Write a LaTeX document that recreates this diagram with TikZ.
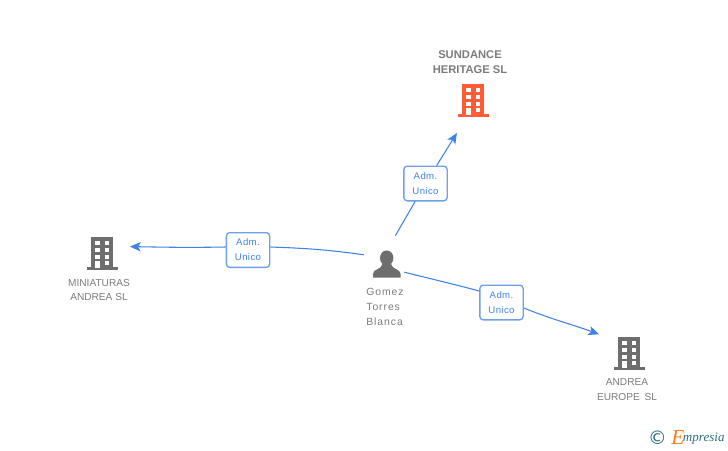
\documentclass[tikz,border=0pt]{standalone}
\usepackage{fontspec}
\setmainfont{Liberation Sans}
\newfontfamily\logofont{Liberation Serif}
\newfontfamily\copyfont{DejaVu Sans}
\newfontfamily\widefont[LetterSpace=9]{Liberation Sans}
\newfontfamily\admfont[LetterSpace=4]{Liberation Sans}
\usepackage{tikz}
\usetikzlibrary{arrows.meta,positioning}
\definecolor{bldgrey}{HTML}{6E6E6E}
\definecolor{bldorange}{HTML}{FF5C35}
\definecolor{txtgrey}{HTML}{7C7C7C}
\definecolor{linkblue}{HTML}{3F84E5}
\definecolor{boxblue}{HTML}{6FA1EA}
\definecolor{logoteal}{HTML}{2F6F80}
\definecolor{logoorange}{HTML}{F5801F}
\tikzstyle{link}    =[draw=linkblue, line width=0.8pt,
                      >={Stealth[length=8pt,width=7pt,inset=2pt]}]
\tikzstyle{admbox}  =[draw=boxblue, fill=white, rounded corners=2.5pt,
                      line width=1pt, minimum width=32.5pt, minimum height=26pt,
                      inner sep=0pt, align=center, text=linkblue,
                      font=\fontsize{7.2}{11.2}\admfont]
\tikzstyle{iconspot}=[minimum width=45pt, minimum height=49.5pt,
                      inner sep=0pt, outer sep=0pt]
\tikzstyle{caption} =[align=center, text=txtgrey, inner sep=0pt,
                      font=\fontsize{7.6}{11.2}\selectfont]
\tikzset{pics/buildingicon/.style={code={
    \fill[#1] (-11,-16.5) rectangle (11,14);
    \fill[#1] (-15.5,14) rectangle (15.5,17);
    \foreach \r in {-12.5,-5.5,1.5}{
        \fill[white] (-7,\r) rectangle (-2.4,\r+4);
        \fill[white] (2.6,\r) rectangle (7.3,\r+4);
    }
    \fill[white] (2.6,8) rectangle (7.3,12.3);
    \fill[white] (-7,8) rectangle (-2.4,15);
}}}
\begin{document}
\begin{tikzpicture}[x=0.75pt, y=-0.75pt]
    \useasboundingbox (0,0) rectangle (728,450);
    \fill[white] (0,0) rectangle (728,450);

    % icons
    \node[iconspot] (sundance) at (473,100) {};
    \pic at (sundance) {buildingicon=bldorange};
    \node[iconspot] (miniaturas) at (102,253) {};
    \pic at (miniaturas) {buildingicon=bldgrey};
    \node[iconspot] (andrea) at (629,353) {};
    \pic at (andrea) {buildingicon=bldgrey};

    \node[minimum width=30pt, minimum height=33pt, inner sep=0pt] (gomez) at (384,258) {};
    \fill[bldgrey] (386.7,258) ellipse (6.7 and 7.6);
    \fill[bldgrey] (373,277.5) -- (373,274) .. controls (373.5,268.5) and (381,270) .. (382.5,264)
        -- (391,264) .. controls (392.5,270) and (400,268.5) .. (400.7,274) -- (400.7,277.5) -- cycle;

    % captions
    \node[caption, font=\fontsize{8.4}{11.2}\selectfont\bfseries] (sundancetxt) at (470,62.5) {SUNDANCE\\HERITAGE SL};
    \node[caption] (miniaturastxt) at (99,290) {MINIATURAS\\ANDREA SL};
    \node[caption] (andreatxt) at (627,390) {ANDREA\\EUROPE\hspace{3.6pt}SL};
    \node[caption, align=left, font=\fontsize{7.8}{11.2}\widefont] (gomeztxt) at (385,306.5) {Gomez\\Torres\\Blanca};

    % labels on the links
    \node[admbox] (admtop) at (425.5,183.5) {Adm.\\Unico};
    \node[admbox] (admleft) at (248,250) {Adm.\\Unico};
    \node[admbox] (admright) at (501.5,302.5) {Adm.\\Unico};

    % links
    \draw[link] (gomez.63) -- (admtop);
    \draw[link, ->] (admtop) -- (sundance.244);
    \draw[link] (gomez.171) to[out=172, in=-2] (admleft.east|-0,247);
    \draw[link, ->, shorten >=-1.5pt] (admleft.west|-0,247) to[out=181, in=-1] (miniaturas.12);
    \draw[link] (gomez.-35) to[out=-14, in=165] (admright.west|-0,291);
    \draw[link, ->] (admright.east|-0,308) to[out=-22, in=160] (andrea.148);

    % logo
    \node[inner sep=0pt, text=logoteal, font=\fontsize{14}{14}\copyfont] (copy) at (657.5,438) {©};
    \node[inner sep=0pt, text=logoteal, anchor=base west, font=\fontsize{9.8}{10}\logofont\itshape] (logo) at (671,441.5)
        {\textcolor{logoorange}{\fontsize{16}{16}\selectfont\raisebox{-2pt}{E}}\kern-1pt mpresia};
\end{tikzpicture}
\end{document}
